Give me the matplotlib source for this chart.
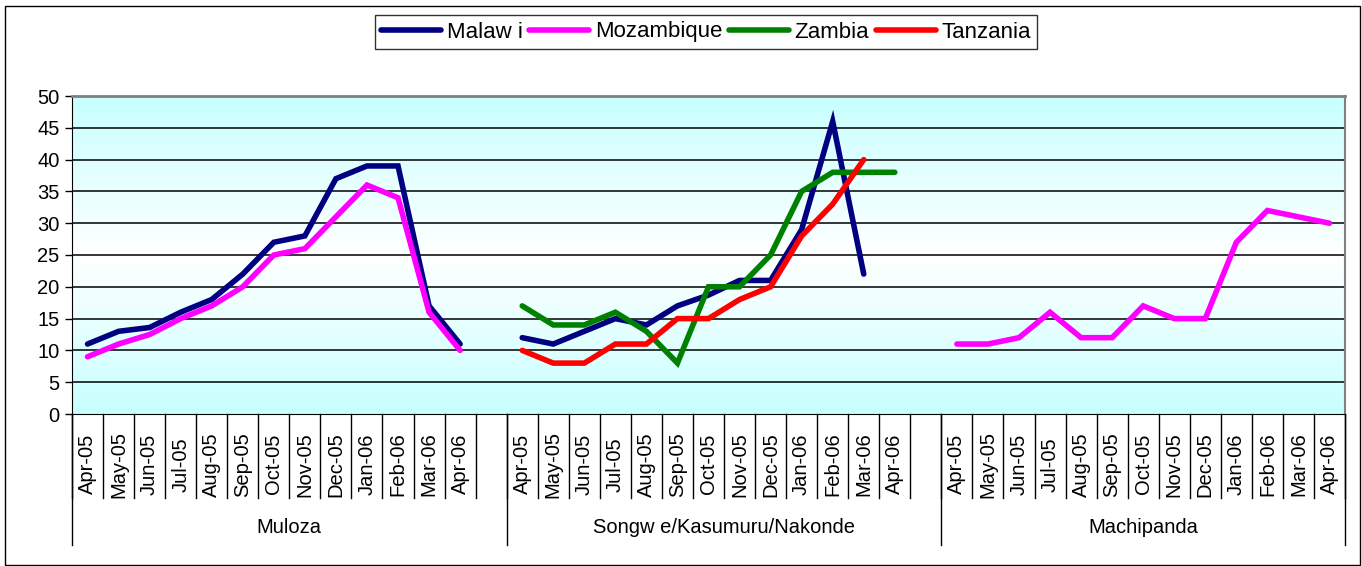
import numpy as np
import matplotlib
matplotlib.use("Agg")
import matplotlib.pyplot as plt
from matplotlib.colors import LinearSegmentedColormap
from matplotlib.patches import Rectangle

plt.rcParams['font.family'] = ['Liberation Sans', 'DejaVu Sans']

months = ["Apr-05", "May-05", "Jun-05", "Jul-05", "Aug-05", "Sep-05", "Oct-05",
          "Nov-05", "Dec-05", "Jan-06", "Feb-06", "Mar-06", "Apr-06"]
groups = ["Muloza", "Songw e/Kasumuru/Nakonde", "Machipanda"]

nan = np.nan
# per border post, 13 months each
malawi_muloza = [11, 13, 13.6, 16, 18, 22, 27, 28, 37, 39, 39, 17, 11]
mozam_muloza = [9, 11, 12.5, 15, 17, 20, 25, 26, 31, 36, 34, 16, 10]
malawi_songwe = [12, 11, 13, 15, 14, 17, 18.7, 21, 21, 29, 46, 22, nan]
zambia_songwe = [17, 14, 14, 16, 13, 8, 20, 20, 25, 35, 38, 38, 38]
tanz_songwe = [10, 8, 8, 11, 11, 15, 15, 18, 20, 28, 33, 40, nan]
mozam_machipanda = [11, 11, 12, 16, 12, 12, 17, 15, 15, 27, 32, 31, 30]
empty = [nan] * 13


def join(a, b, c):
    # groups 1 and 2 get one blank slot after them, like the excel sheet
    return np.array(list(a) + [nan] + list(b) + [nan] + list(c), dtype=float)


series = {
    "Malaw i": (join(malawi_muloza, malawi_songwe, empty), "#000080"),
    "Mozambique": (join(mozam_muloza, empty, mozam_machipanda), "#FF00FF"),
    "Zambia": (join(empty, zambia_songwe, empty), "#008000"),
    "Tanzania": (join(empty, tanz_songwe, empty), "#FF0000"),
}

labels = months + [""] + months + [""] + months
n = len(labels)
x = np.arange(n) + 0.5

fig = plt.figure(figsize=(13.62, 5.66), dpi=100)
ax = fig.add_axes([72 / 1362, 1 - 414 / 566, (1345 - 72) / 1362, (414 - 96) / 566])

# cyan -> white -> cyan background
cmap = LinearSegmentedColormap.from_list("bg", ["#C8FFFF", "#FFFFFF", "#C8FFFF"])
grad = np.linspace(0, 1, 256).reshape(-1, 1)
ax.imshow(grad, cmap=cmap, aspect="auto", extent=[0, 1, 0, 1],
          transform=ax.transAxes, zorder=0)

for v in range(5, 50, 5):
    ax.axhline(v, color="black", lw=1.1, zorder=1)

for name, (vals, col) in series.items():
    ax.plot(x, vals, color=col, lw=4, label=name, zorder=3,
            solid_joinstyle="miter", solid_capstyle="round")

ax.set_xlim(0, n)
ax.set_ylim(0, 50)
ax.set_yticks(range(0, 51, 5))
ax.tick_params(axis="y", labelsize=14.5, length=5, width=1, direction="out", pad=4)
ax.set_xticks([])

ax.spines["top"].set_color("#808080")
ax.spines["top"].set_linewidth(2)
ax.spines["right"].set_color("#808080")
ax.spines["right"].set_linewidth(1.5)
ax.spines["left"].set_color("black")
ax.spines["bottom"].set_color("black")

# two level category axis
tr = ax.get_xaxis_transform()
for i in range(n + 1):
    ax.plot([i, i], [0, -0.264], color="black", lw=1, transform=tr, clip_on=False)
for b in [0, 14, 28, n]:
    ax.plot([b, b], [0, -0.412], color="black", lw=1, transform=tr, clip_on=False)
for xi, lab in zip(x, labels):
    ax.text(xi, -0.158, lab, rotation=90, ha="center", va="center",
            fontsize=14.5, transform=tr)
for cx, g in zip([7, 21, 34.5], groups):
    ax.text(cx, -0.358, g, ha="center", va="center", fontsize=14.5, transform=tr)

leg = fig.legend(loc="center", bbox_to_anchor=(706 / 1362, 1 - 32 / 566), ncol=4,
                 fontsize=16, frameon=True, fancybox=False, handlelength=2.7,
                 handletextpad=0.25, columnspacing=0.3, borderpad=0.3)
leg.get_frame().set_edgecolor("black")
leg.get_frame().set_linewidth(1)

fig.add_artist(Rectangle((5 / 1362, 1 / 566), 1355 / 1362, 559 / 566,
                         transform=fig.transFigure, fill=False,
                         edgecolor="black", lw=1))

fig.savefig("out.png", dpi=100)
